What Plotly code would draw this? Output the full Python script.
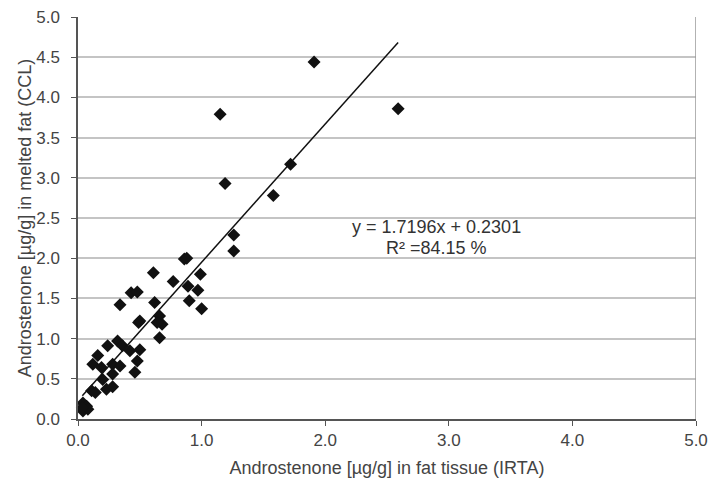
import plotly.graph_objects as go

x_irta = [2.59, 1.91, 1.15, 1.19, 1.72, 1.58, 1.26, 1.26, 0.86, 0.88, 0.99, 0.61, 0.77, 0.89,
          0.97, 0.90, 1.00, 0.43, 0.48, 0.34, 0.62, 0.66, 0.68, 0.64, 0.49, 0.50, 0.66,
          0.32, 0.36, 0.24, 0.42, 0.50, 0.16, 0.12, 0.19, 0.28, 0.34, 0.48, 0.28, 0.20,
          0.46, 0.23, 0.28, 0.11, 0.14, 0.04, 0.07, 0.04, 0.08, 0.035]
y_ccl = [3.86, 4.44, 3.79, 2.93, 3.17, 2.78, 2.29, 2.09, 1.99, 2.00, 1.80, 1.82, 1.71, 1.65,
         1.60, 1.47, 1.37, 1.57, 1.58, 1.42, 1.45, 1.28, 1.18, 1.20, 1.20, 1.22, 1.01,
         0.97, 0.91, 0.91, 0.85, 0.86, 0.79, 0.68, 0.64, 0.68, 0.66, 0.72, 0.56, 0.49,
         0.58, 0.37, 0.40, 0.35, 0.33, 0.20, 0.16, 0.10, 0.12, 0.14]

slope, intercept = 1.7196, 0.2301
fit_x = [min(x_irta), max(x_irta)]
fit_y = [slope * v + intercept for v in fit_x]

tick_vals_x = [0, 1, 2, 3, 4, 5]
tick_text_x = ["0.0", "1.0", "2.0", "3.0", "4.0", "5.0"]
tick_vals_y = [0, 0.5, 1, 1.5, 2, 2.5, 3, 3.5, 4, 4.5, 5]
tick_text_y = ["0.0", "0.5", "1.0", "1.5", "2.0", "2.5", "3.0", "3.5", "4.0", "4.5", "5.0"]

fig = go.Figure()
fig.add_trace(go.Scatter(x=x_irta, y=y_ccl, mode="markers",
                         marker=dict(symbol="diamond", size=10, color="#111111"),
                         showlegend=False, cliponaxis=False))
fig.add_trace(go.Scatter(x=fit_x, y=fit_y, mode="lines",
                         line=dict(color="#111111", width=1.5), showlegend=False))

font_family = "Liberation Sans, Arial, sans-serif"
fig.update_layout(
    width=710, height=478,
    margin=dict(l=78, r=14, t=17, b=59),
    paper_bgcolor="white", plot_bgcolor="white",
    font=dict(family=font_family, size=17, color="#444444"),
    xaxis=dict(range=[0, 5], tickvals=tick_vals_x, ticktext=tick_text_x,
               showgrid=False, zeroline=False, showline=True, linecolor="#555555",
               linewidth=1.5, ticks="outside", ticklen=5, tickcolor="#555555",
               ticklabeloverflow="allow", automargin=False,
               title=dict(text="Androstenone [µg/g] in fat tissue (IRTA)", standoff=15,
                          font=dict(size=18, color="#444444"))),
    yaxis=dict(range=[0, 5], tickvals=tick_vals_y, ticktext=tick_text_y,
               showgrid=True, gridcolor="#c4c4c4", gridwidth=1.5, zeroline=False,
               showline=True, linecolor="#555555", linewidth=1.5,
               ticks="outside", ticklen=5, tickcolor="#555555",
               ticklabelstandoff=8, automargin=False,
               title=dict(text="Androstenone [µg/g] in melted fat (CCL)", standoff=0,
                          font=dict(size=18, color="#444444"))),
    shapes=[dict(type="line", xref="x", yref="y", x0=5, x1=5, y0=0, y1=5,
                 line=dict(color="#999999", width=1.5))],
    annotations=[
        dict(x=2.9, y=2.39, xref="x", yref="y", text="y = 1.7196x + 0.2301",
             showarrow=False, font=dict(size=18, color="#333333"), xanchor="center"),
        dict(x=2.9, y=2.13, xref="x", yref="y", text="R² =84.15 %",
             showarrow=False, font=dict(size=18, color="#333333"), xanchor="center"),
    ],
)

fig.write_html("out.html")
